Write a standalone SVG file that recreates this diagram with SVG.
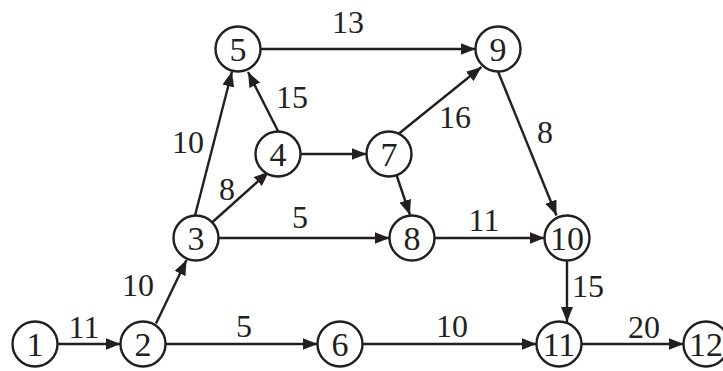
<svg xmlns="http://www.w3.org/2000/svg" width="723" height="371" viewBox="0 0 723 371">
<defs>
<style>
.n circle{fill:#fff;stroke:#231f20;stroke-width:2.4}
.n text{font-family:'Liberation Serif','DejaVu Serif',serif;font-size:34px;fill:#231f20;text-anchor:middle}
.e line{stroke:#231f20;stroke-width:2.4;fill:none}
.l text{font-family:'Liberation Serif','DejaVu Serif',serif;font-size:32px;fill:#231f20;text-anchor:middle}
</style>
<marker id="ah" markerUnits="userSpaceOnUse" markerWidth="16" markerHeight="12" refX="15" refY="6" orient="auto">
<path d="M0,0 L15,6 L0,12 z" fill="#231f20"/>
</marker>
</defs>
<rect width="723" height="371" fill="#fff"/>
<g id="connectors" class="e">
<line x1="57.5" y1="344" x2="120.5" y2="344" marker-end="url(#ah)"/>
<line x1="165.5" y1="344" x2="317.5" y2="344" marker-end="url(#ah)"/>
<line x1="362.5" y1="344" x2="536.5" y2="344" marker-end="url(#ah)"/>
<line x1="581.5" y1="344" x2="683.5" y2="344" marker-end="url(#ah)"/>
<line x1="218.5" y1="238" x2="389.5" y2="238" marker-end="url(#ah)"/>
<line x1="434.5" y1="238" x2="544.5" y2="238" marker-end="url(#ah)"/>
<line x1="300.5" y1="154" x2="366.5" y2="154" marker-end="url(#ah)"/>
<line x1="260.5" y1="49" x2="475.5" y2="49" marker-end="url(#ah)"/>
<line x1="567" y1="260.5" x2="567" y2="322" marker-end="url(#ah)"/>
<line x1="156" y1="323.5" x2="186.5" y2="260" marker-end="url(#ah)"/>
<line x1="195" y1="215.5" x2="232" y2="71.5" marker-end="url(#ah)"/>
<line x1="278.5" y1="132" x2="248" y2="72" marker-end="url(#ah)"/>
<line x1="212" y1="222.5" x2="269" y2="171.5" marker-end="url(#ah)"/>
<line x1="399" y1="133.5" x2="481.5" y2="67" marker-end="url(#ah)"/>
<line x1="498" y1="71.5" x2="556.5" y2="215.5" marker-end="url(#ah)"/>
<line x1="396.5" y1="175" x2="410" y2="215" marker-end="url(#ah)"/>
</g>
<g id="node1" class="n"><circle cx="35" cy="344" r="22.5"/><text x="35" y="356">1</text></g>
<g id="node2" class="n"><circle cx="143" cy="344" r="22.5"/><text x="143" y="356">2</text></g>
<g id="node3" class="n"><circle cx="196" cy="238" r="22.5"/><text x="196" y="250">3</text></g>
<g id="node4" class="n"><circle cx="278" cy="154" r="22.5"/><text x="278" y="166">4</text></g>
<g id="node5" class="n"><circle cx="238" cy="49" r="22.5"/><text x="238" y="61">5</text></g>
<g id="node6" class="n"><circle cx="340" cy="344" r="22.5"/><text x="340" y="356">6</text></g>
<g id="node7" class="n"><circle cx="389" cy="154" r="22.5"/><text x="389" y="166">7</text></g>
<g id="node8" class="n"><circle cx="412" cy="238" r="22.5"/><text x="412" y="250">8</text></g>
<g id="node9" class="n"><circle cx="498" cy="49" r="22.5"/><text x="498" y="61">9</text></g>
<g id="node10" class="n"><circle cx="567" cy="238" r="22.5"/><text x="567" y="250">10</text></g>
<g id="node11" class="n"><circle cx="559" cy="344" r="22.5"/><text x="559" y="356">11</text></g>
<g id="node12" class="n"><circle cx="706" cy="344" r="22.5"/><text x="706" y="356">12</text></g>
<g id="labels" class="l">
<text x="348" y="33">13</text>
<text x="292" y="108">15</text>
<text x="188" y="153">10</text>
<text x="227" y="200">8</text>
<text x="455" y="128">16</text>
<text x="545" y="143">8</text>
<text x="300" y="228">5</text>
<text x="138" y="296">10</text>
<text x="84" y="338">11</text>
<text x="244" y="337">5</text>
<text x="484" y="231">11</text>
<text x="588" y="297">15</text>
<text x="452" y="337">10</text>
<text x="644" y="338">20</text>
</g>
</svg>
